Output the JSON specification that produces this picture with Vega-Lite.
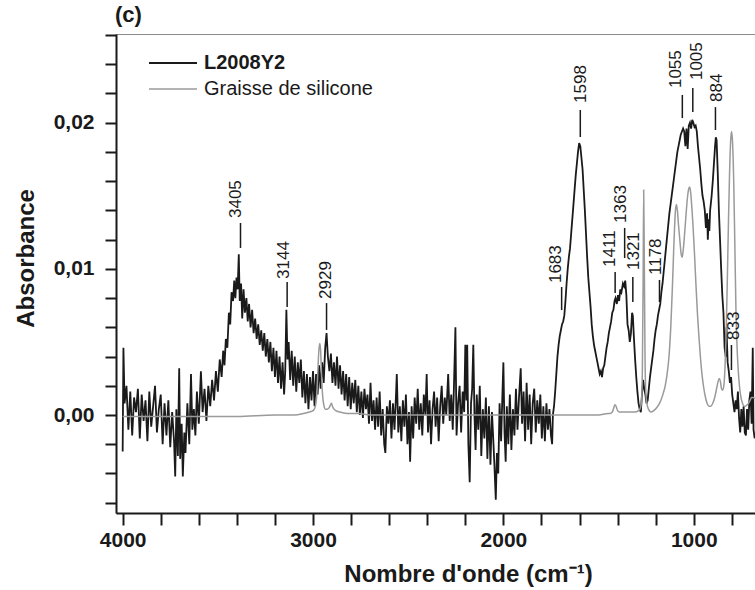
{
  "$schema": "https://vega.github.io/schema/vega-lite/v6.json",
  "autosize": "none",
  "width": 640,
  "height": 479,
  "padding": {"left": 116, "top": 34, "right": 0, "bottom": 77},
  "background": "white",
  "config": {
    "view": {"stroke": "#8c8c8c", "strokeWidth": 1},
    "font": "Liberation Sans",
    "axis": {"grid": false}
  },
  "title": {"text": "(c)", "anchor": "start", "frame": "group", "fontSize": 22, "fontWeight": "bold", "font": "Liberation Sans", "color": "#1a1a1a", "baseline": "bottom", "offset": 6, "dy": 31, "dx": -1},
  "datasets": {
    "black": [
      {"w":4000,"a":-0.0025},{"w":3996,"a":0.0046},{"w":3990,"a":0.0008},{"w":3980,"a":0.002},{"w":3970,"a":-0.001},{"w":3960,"a":0.0016},{"w":3950,"a":-0.0014},{"w":3940,"a":0.0012},{"w":3930,"a":0.0002},{"w":3920,"a":0.0018},{"w":3910,"a":-0.0016},{"w":3900,"a":0.0014},{"w":3890,"a":-0.0004},{"w":3880,"a":0.001},{"w":3870,"a":-0.0018},{"w":3860,"a":0.0016},{"w":3850,"a":-0.0008},{"w":3840,"a":0.0006},{"w":3830,"a":0.002},{"w":3820,"a":-0.0012},{"w":3810,"a":0.0004},{"w":3800,"a":0.0014},{"w":3790,"a":-0.002},{"w":3780,"a":0.0008},{"w":3770,"a":-0.0014},{"w":3760,"a":0.001},{"w":3750,"a":-0.0022},{"w":3740,"a":0.0002},{"w":3730,"a":-0.0018},{"w":3724,"a":-0.0042},{"w":3718,"a":0.0004},{"w":3710,"a":-0.0028},{"w":3703,"a":0.0032},{"w":3698,"a":-0.003},{"w":3690,"a":-0.0006},{"w":3684,"a":-0.0042},{"w":3676,"a":-0.0012},{"w":3670,"a":-0.0026},{"w":3660,"a":0.0008},{"w":3650,"a":-0.002},{"w":3641,"a":0.0028},{"w":3634,"a":-0.001},{"w":3626,"a":0.0004},{"w":3618,"a":-0.0014},{"w":3610,"a":0.0016},{"w":3600,"a":-0.0006},{"w":3589,"a":0.003},{"w":3580,"a":0.0002},{"w":3570,"a":0.0018},{"w":3560,"a":-0.0004},{"w":3550,"a":0.002},{"w":3540,"a":0.0006},{"w":3530,"a":0.0024},{"w":3520,"a":0.001},{"w":3510,"a":0.003},{"w":3500,"a":0.0016},{"w":3490,"a":0.0038},{"w":3480,"a":0.0026},{"w":3472,"a":0.0044},{"w":3465,"a":0.0034},{"w":3458,"a":0.0052},{"w":3450,"a":0.0046},{"w":3442,"a":0.007},{"w":3435,"a":0.0062},{"w":3428,"a":0.0084},{"w":3420,"a":0.0078},{"w":3414,"a":0.0092},{"w":3408,"a":0.008},{"w":3402,"a":0.0094},{"w":3396,"a":0.0086},{"w":3390,"a":0.011},{"w":3385,"a":0.0078},{"w":3378,"a":0.009},{"w":3372,"a":0.0066},{"w":3365,"a":0.0086},{"w":3358,"a":0.007},{"w":3350,"a":0.008},{"w":3343,"a":0.0064},{"w":3336,"a":0.0076},{"w":3328,"a":0.006},{"w":3320,"a":0.0072},{"w":3312,"a":0.0056},{"w":3304,"a":0.0066},{"w":3296,"a":0.0052},{"w":3288,"a":0.0062},{"w":3280,"a":0.0048},{"w":3272,"a":0.0058},{"w":3264,"a":0.0044},{"w":3256,"a":0.0056},{"w":3248,"a":0.004},{"w":3240,"a":0.0052},{"w":3232,"a":0.0036},{"w":3224,"a":0.005},{"w":3216,"a":0.003},{"w":3208,"a":0.0046},{"w":3200,"a":0.0026},{"w":3192,"a":0.0044},{"w":3184,"a":0.0022},{"w":3176,"a":0.004},{"w":3168,"a":0.0018},{"w":3160,"a":0.0036},{"w":3152,"a":0.0014},{"w":3146,"a":0.003},{"w":3140,"a":0.0072},{"w":3134,"a":0.0038},{"w":3128,"a":0.005},{"w":3120,"a":0.0024},{"w":3112,"a":0.0044},{"w":3104,"a":0.002},{"w":3096,"a":0.004},{"w":3088,"a":0.0016},{"w":3080,"a":0.0036},{"w":3072,"a":0.0022},{"w":3064,"a":0.0038},{"w":3056,"a":0.0012},{"w":3048,"a":0.003},{"w":3040,"a":0.0008},{"w":3032,"a":0.0028},{"w":3024,"a":0.0004},{"w":3016,"a":0.0026},{"w":3008,"a":0.001},{"w":3000,"a":0.003},{"w":2992,"a":0.0006},{"w":2984,"a":0.0028},{"w":2976,"a":0.0014},{"w":2968,"a":0.0034},{"w":2960,"a":0.0018},{"w":2952,"a":0.0036},{"w":2944,"a":0.0022},{"w":2936,"a":0.0046},{"w":2929,"a":0.0056},{"w":2922,"a":0.004},{"w":2914,"a":0.003},{"w":2906,"a":0.0042},{"w":2898,"a":0.0022},{"w":2890,"a":0.0036},{"w":2882,"a":0.002},{"w":2874,"a":0.004},{"w":2866,"a":0.0018},{"w":2858,"a":0.0034},{"w":2850,"a":0.0014},{"w":2842,"a":0.003},{"w":2834,"a":0.001},{"w":2826,"a":0.0028},{"w":2818,"a":0.0006},{"w":2810,"a":0.0026},{"w":2802,"a":0.0004},{"w":2794,"a":0.0022},{"w":2786,"a":0.0008},{"w":2778,"a":0.0024},{"w":2770,"a":0.0002},{"w":2762,"a":0.002},{"w":2754,"a":0},{"w":2746,"a":0.0016},{"w":2738,"a":-0.0002},{"w":2730,"a":0.0018},{"w":2722,"a":0.0004},{"w":2714,"a":0.0014},{"w":2706,"a":-0.0006},{"w":2698,"a":0.0022},{"w":2690,"a":-0.0004},{"w":2682,"a":0.001},{"w":2674,"a":-0.001},{"w":2666,"a":0.0012},{"w":2658,"a":-0.0008},{"w":2650,"a":0.0016},{"w":2642,"a":-0.0014},{"w":2634,"a":0.0004},{"w":2626,"a":-0.002},{"w":2620,"a":-0.0026},{"w":2612,"a":0.0006},{"w":2604,"a":-0.0006},{"w":2596,"a":0.001},{"w":2588,"a":-0.0016},{"w":2580,"a":0.0008},{"w":2572,"a":-0.001},{"w":2564,"a":0.0014},{"w":2560,"a":0.0028},{"w":2552,"a":-0.0012},{"w":2544,"a":0.0006},{"w":2536,"a":-0.0018},{"w":2528,"a":0.001},{"w":2520,"a":-0.0008},{"w":2512,"a":0.0014},{"w":2504,"a":-0.002},{"w":2496,"a":0.0002},{"w":2490,"a":-0.0032},{"w":2482,"a":0.0006},{"w":2474,"a":-0.0016},{"w":2466,"a":0.0012},{"w":2458,"a":-0.0006},{"w":2450,"a":0.0018},{"w":2442,"a":-0.001},{"w":2434,"a":0.0008},{"w":2426,"a":-0.0014},{"w":2418,"a":0.0014},{"w":2410,"a":0},{"w":2403,"a":0.0028},{"w":2396,"a":-0.0012},{"w":2388,"a":0.001},{"w":2380,"a":-0.002},{"w":2372,"a":0.0004},{"w":2364,"a":0.0016},{"w":2356,"a":-0.0008},{"w":2348,"a":0.0012},{"w":2340,"a":-0.0018},{"w":2332,"a":0.0006},{"w":2324,"a":0.002},{"w":2316,"a":-0.0006},{"w":2308,"a":0.0012},{"w":2300,"a":0},{"w":2290,"a":0.0028},{"w":2282,"a":-0.0004},{"w":2274,"a":0.0014},{"w":2266,"a":-0.001},{"w":2260,"a":0.0018},{"w":2252,"a":0.006},{"w":2246,"a":-0.0014},{"w":2238,"a":0.0008},{"w":2230,"a":0.002},{"w":2222,"a":-0.0012},{"w":2214,"a":0.0016},{"w":2206,"a":0.0002},{"w":2200,"a":0.0048},{"w":2194,"a":0.001},{"w":2190,"a":0.0048},{"w":2184,"a":-0.002},{"w":2177,"a":-0.0046},{"w":2170,"a":0.0008},{"w":2164,"a":0.0018},{"w":2158,"a":0.0048},{"w":2152,"a":0},{"w":2146,"a":-0.0024},{"w":2140,"a":0.0014},{"w":2132,"a":-0.001},{"w":2124,"a":0.002},{"w":2116,"a":-0.0028},{"w":2108,"a":0.0004},{"w":2100,"a":-0.0016},{"w":2092,"a":0.0012},{"w":2084,"a":-0.003},{"w":2076,"a":0.0006},{"w":2068,"a":-0.0034},{"w":2060,"a":0.0002},{"w":2052,"a":-0.002},{"w":2046,"a":-0.0038},{"w":2040,"a":-0.0058},{"w":2034,"a":-0.0026},{"w":2027,"a":-0.004},{"w":2020,"a":0.0008},{"w":2012,"a":-0.0018},{"w":2006,"a":0.001},{"w":2000,"a":0.0036},{"w":1994,"a":-0.0012},{"w":1988,"a":-0.0032},{"w":1982,"a":0.0006},{"w":1974,"a":-0.002},{"w":1966,"a":0.0014},{"w":1958,"a":-0.0024},{"w":1950,"a":0.0004},{"w":1942,"a":-0.0014},{"w":1934,"a":0.0018},{"w":1926,"a":-0.001},{"w":1918,"a":0.0012},{"w":1909,"a":0.0032},{"w":1902,"a":-0.0006},{"w":1894,"a":0.0016},{"w":1886,"a":-0.0018},{"w":1878,"a":0.0022},{"w":1870,"a":-0.001},{"w":1862,"a":0.0014},{"w":1854,"a":-0.002},{"w":1846,"a":0.0008},{"w":1838,"a":0.0018},{"w":1830,"a":-0.0012},{"w":1822,"a":0.001},{"w":1814,"a":-0.0006},{"w":1806,"a":0.0014},{"w":1798,"a":-0.0016},{"w":1790,"a":0.0006},{"w":1782,"a":-0.0018},{"w":1774,"a":0.0008},{"w":1766,"a":-0.001},{"w":1758,"a":0.0004},{"w":1750,"a":-0.0014},{"w":1744,"a":-0.002},{"w":1740,"a":0},{"w":1734,"a":0.0006},{"w":1728,"a":0.0016},{"w":1722,"a":0.0028},{"w":1716,"a":0.004},{"w":1710,"a":0.0048},{"w":1704,"a":0.0054},{"w":1698,"a":0.0058},{"w":1692,"a":0.0062},{"w":1686,"a":0.0064},{"w":1680,"a":0.0068},{"w":1674,"a":0.0078},{"w":1668,"a":0.009},{"w":1662,"a":0.01},{"w":1656,"a":0.0108},{"w":1650,"a":0.0114},{"w":1644,"a":0.0124},{"w":1638,"a":0.0134},{"w":1632,"a":0.0144},{"w":1626,"a":0.0154},{"w":1620,"a":0.0164},{"w":1614,"a":0.0172},{"w":1608,"a":0.018},{"w":1602,"a":0.0186},{"w":1596,"a":0.0184},{"w":1590,"a":0.0176},{"w":1584,"a":0.0168},{"w":1578,"a":0.0154},{"w":1572,"a":0.014},{"w":1566,"a":0.0124},{"w":1560,"a":0.0108},{"w":1554,"a":0.0094},{"w":1548,"a":0.0084},{"w":1542,"a":0.0074},{"w":1536,"a":0.0062},{"w":1530,"a":0.0054},{"w":1524,"a":0.0048},{"w":1518,"a":0.0044},{"w":1512,"a":0.004},{"w":1506,"a":0.0036},{"w":1500,"a":0.0032},{"w":1494,"a":0.0028},{"w":1488,"a":0.003},{"w":1482,"a":0.0026},{"w":1476,"a":0.0032},{"w":1470,"a":0.0034},{"w":1464,"a":0.004},{"w":1458,"a":0.0046},{"w":1452,"a":0.005},{"w":1446,"a":0.0056},{"w":1440,"a":0.006},{"w":1434,"a":0.0064},{"w":1428,"a":0.007},{"w":1422,"a":0.0072},{"w":1416,"a":0.0078},{"w":1411,"a":0.008},{"w":1404,"a":0.0076},{"w":1398,"a":0.0082},{"w":1392,"a":0.0078},{"w":1386,"a":0.0086},{"w":1380,"a":0.0084},{"w":1372,"a":0.009},{"w":1366,"a":0.0088},{"w":1360,"a":0.0092},{"w":1354,"a":0.0082},{"w":1348,"a":0.0062},{"w":1342,"a":0.0058},{"w":1336,"a":0.005},{"w":1330,"a":0.0056},{"w":1324,"a":0.007},{"w":1320,"a":0.0068},{"w":1314,"a":0.0052},{"w":1308,"a":0.0038},{"w":1302,"a":0.0026},{"w":1296,"a":0.0016},{"w":1290,"a":0.0008},{"w":1284,"a":0.0004},{"w":1278,"a":0.0002},{"w":1272,"a":0.0014},{"w":1266,"a":0.0024},{"w":1260,"a":0.0018},{"w":1254,"a":0.0014},{"w":1248,"a":0.0008},{"w":1242,"a":0.001},{"w":1236,"a":0.0018},{"w":1230,"a":0.0026},{"w":1224,"a":0.0032},{"w":1218,"a":0.0038},{"w":1212,"a":0.0044},{"w":1206,"a":0.0052},{"w":1200,"a":0.0058},{"w":1194,"a":0.0062},{"w":1188,"a":0.0068},{"w":1182,"a":0.0072},{"w":1176,"a":0.0076},{"w":1170,"a":0.0084},{"w":1164,"a":0.009},{"w":1158,"a":0.0098},{"w":1152,"a":0.0106},{"w":1146,"a":0.0114},{"w":1140,"a":0.0122},{"w":1134,"a":0.013},{"w":1128,"a":0.0138},{"w":1122,"a":0.0144},{"w":1116,"a":0.015},{"w":1110,"a":0.0156},{"w":1104,"a":0.0162},{"w":1098,"a":0.0168},{"w":1092,"a":0.0174},{"w":1086,"a":0.018},{"w":1080,"a":0.0184},{"w":1074,"a":0.0188},{"w":1068,"a":0.0192},{"w":1062,"a":0.0194},{"w":1056,"a":0.0196},{"w":1050,"a":0.0194},{"w":1044,"a":0.0184},{"w":1038,"a":0.0196},{"w":1032,"a":0.0182},{"w":1026,"a":0.0198},{"w":1020,"a":0.02},{"w":1014,"a":0.0196},{"w":1008,"a":0.0202},{"w":1002,"a":0.02},{"w":996,"a":0.0197},{"w":990,"a":0.0198},{"w":984,"a":0.0194},{"w":978,"a":0.0184},{"w":972,"a":0.0176},{"w":966,"a":0.0168},{"w":960,"a":0.0158},{"w":954,"a":0.015},{"w":948,"a":0.0146},{"w":942,"a":0.014},{"w":936,"a":0.0128},{"w":930,"a":0.0138},{"w":926,"a":0.012},{"w":922,"a":0.0134},{"w":918,"a":0.0126},{"w":914,"a":0.014},{"w":906,"a":0.015},{"w":900,"a":0.016},{"w":894,"a":0.0172},{"w":888,"a":0.0184},{"w":884,"a":0.019},{"w":880,"a":0.0188},{"w":874,"a":0.0166},{"w":868,"a":0.014},{"w":862,"a":0.012},{"w":856,"a":0.01},{"w":850,"a":0.0082},{"w":844,"a":0.007},{"w":838,"a":0.0046},{"w":832,"a":0.004},{"w":828,"a":0.006},{"w":822,"a":0.0036},{"w":816,"a":0.003},{"w":810,"a":0.0022},{"w":804,"a":0.0026},{"w":798,"a":0.0014},{"w":792,"a":0.0008},{"w":786,"a":0.0002},{"w":780,"a":0.001},{"w":774,"a":0.0004},{"w":768,"a":0.0016},{"w":762,"a":-0.0002},{"w":756,"a":-0.0012},{"w":750,"a":0.0004},{"w":744,"a":-0.0008},{"w":738,"a":0.0006},{"w":732,"a":-0.0012},{"w":726,"a":-0.0014},{"w":720,"a":0.0004},{"w":714,"a":-0.001},{"w":708,"a":0.001},{"w":702,"a":0.0016},{"w":696,"a":-0.0006},{"w":690,"a":0.0046},{"w":686,"a":-0.001},{"w":680,"a":-0.0016}
    ],
    "gray": [
      {"w":4000,"a":-0.0001},{"w":3800,"a":-0.0001},{"w":3600,"a":-0.0001},{"w":3400,"a":-0.0001},{"w":3200,"a":0},{"w":3100,"a":0},{"w":3050,"a":0.0001},{"w":3020,"a":0.0002},{"w":3000,"a":0.0003},{"w":2990,"a":0.0005},{"w":2985,"a":0.0008},{"w":2980,"a":0.0014},{"w":2976,"a":0.0026},{"w":2972,"a":0.0038},{"w":2968,"a":0.0046},{"w":2964,"a":0.0049},{"w":2960,"a":0.0044},{"w":2956,"a":0.003},{"w":2952,"a":0.0018},{"w":2948,"a":0.0011},{"w":2942,"a":0.0006},{"w":2935,"a":0.0004},{"w":2925,"a":0.0004},{"w":2915,"a":0.0005},{"w":2908,"a":0.0007},{"w":2903,"a":0.0008},{"w":2898,"a":0.0006},{"w":2890,"a":0.0004},{"w":2880,"a":0.0003},{"w":2860,"a":0.0002},{"w":2820,"a":0.0001},{"w":2760,"a":0.0001},{"w":2700,"a":0},{"w":2400,"a":0},{"w":2000,"a":0},{"w":1700,"a":0},{"w":1500,"a":0},{"w":1450,"a":0.0001},{"w":1440,"a":0.0001},{"w":1428,"a":0.0002},{"w":1420,"a":0.0005},{"w":1414,"a":0.0007},{"w":1408,"a":0.0006},{"w":1400,"a":0.0003},{"w":1390,"a":0.0002},{"w":1370,"a":0.0002},{"w":1340,"a":0.0002},{"w":1310,"a":0.0002},{"w":1290,"a":0.0003},{"w":1280,"a":0.0005},{"w":1274,"a":0.001},{"w":1270,"a":0.003},{"w":1266,"a":0.009},{"w":1263,"a":0.0154},{"w":1260,"a":0.011},{"w":1256,"a":0.004},{"w":1252,"a":0.0016},{"w":1246,"a":0.0008},{"w":1238,"a":0.0004},{"w":1225,"a":0.0002},{"w":1210,"a":0.0003},{"w":1195,"a":0.0005},{"w":1180,"a":0.0008},{"w":1170,"a":0.0011},{"w":1160,"a":0.0015},{"w":1150,"a":0.002},{"w":1140,"a":0.0028},{"w":1130,"a":0.004},{"w":1120,"a":0.0062},{"w":1112,"a":0.0088},{"w":1104,"a":0.0118},{"w":1096,"a":0.014},{"w":1091,"a":0.0144},{"w":1086,"a":0.014},{"w":1080,"a":0.013},{"w":1072,"a":0.0118},{"w":1066,"a":0.011},{"w":1061,"a":0.0108},{"w":1056,"a":0.0112},{"w":1048,"a":0.0124},{"w":1040,"a":0.0138},{"w":1032,"a":0.015},{"w":1026,"a":0.0155},{"w":1021,"a":0.0156},{"w":1016,"a":0.0152},{"w":1010,"a":0.0142},{"w":1004,"a":0.013},{"w":996,"a":0.011},{"w":988,"a":0.0088},{"w":980,"a":0.0068},{"w":972,"a":0.0052},{"w":964,"a":0.0038},{"w":956,"a":0.0027},{"w":948,"a":0.0019},{"w":940,"a":0.0013},{"w":930,"a":0.0008},{"w":920,"a":0.0006},{"w":910,"a":0.0006},{"w":900,"a":0.0008},{"w":890,"a":0.0012},{"w":880,"a":0.0018},{"w":872,"a":0.0023},{"w":866,"a":0.0025},{"w":860,"a":0.0023},{"w":854,"a":0.0018},{"w":848,"a":0.0017},{"w":842,"a":0.002},{"w":836,"a":0.0032},{"w":830,"a":0.0055},{"w":824,"a":0.009},{"w":818,"a":0.013},{"w":812,"a":0.0165},{"w":806,"a":0.0188},{"w":801,"a":0.0194},{"w":796,"a":0.0186},{"w":790,"a":0.016},{"w":784,"a":0.0115},{"w":778,"a":0.007},{"w":772,"a":0.0045},{"w":766,"a":0.003},{"w":760,"a":0.002},{"w":752,"a":0.0012},{"w":744,"a":0.0008},{"w":736,"a":0.0006},{"w":728,"a":0.0006},{"w":720,"a":0.0007},{"w":712,"a":0.0008},{"w":704,"a":0.001},{"w":696,"a":0.0012},{"w":688,"a":0.0012},{"w":680,"a":0.0011}
    ],
    "labels": [
      {"t":"3405","w":3381,"a":0.01143,"a2":0.01314,"tw":3403,"ta":0.01348},
      {"t":"3144","w":3136,"a":0.00739,"a2":0.0091,"tw":3153,"ta":0.00931},
      {"t":"2929","w":2929,"a":0.00582,"a2":0.00766,"tw":2933,"ta":0.00794},
      {"t":"1683","w":1694,"a":0.00718,"a2":0.00876,"tw":1725,"ta":0.00903},
      {"t":"1598","w":1596,"a":0.01902,"a2":0.02087,"tw":1594,"ta":0.02135},
      {"t":"1411","w":1413,"a":0.00835,"a2":0.00978,"tw":1439,"ta":0.01013},
      {"t":"1363","w":1363,"a":0.01074,"a2":0.0128,"tw":1382,"ta":0.01314},
      {"t":"1321","w":1320,"a":0.00773,"a2":0.00944,"tw":1316,"ta":0.00992},
      {"t":"1178","w":1180,"a":0.00773,"a2":0.00924,"tw":1200,"ta":0.00958},
      {"t":"1055","w":1060,"a":0.02032,"a2":0.0219,"tw":1092,"ta":0.02237},
      {"t":"1005","w":1005,"a":0.02073,"a2":0.02237,"tw":985,"ta":0.02292},
      {"t":"884","w":886,"a":0.0195,"a2":0.02107,"tw":878,"ta":0.02142},
      {"t":"833","w":802,"a":0.00308,"a2":0.00479,"tw":786,"ta":0.00513}
    ]
  },
  "layer": [
    {
      "data": {"name": "black"},
      "mark": {"type": "line", "strokeWidth": 1.8, "clip": true},
      "encoding": {
        "x": {
          "field": "w", "type": "quantitative",
          "scale": {"domain": [673, 4035], "reverse": true, "nice": false, "zero": false},
          "axis": {
            "values": [4000,3800,3600,3400,3200,3000,2800,2600,2400,2200,2000,1800,1600,1400,1200,1000,800],
            "tickCount": 100,
            "format": "d",
            "labelExpr": "datum.value % 1000 === 0 ? datum.label : ''",
            "tickSize": 12, "tickWidth": 2, "tickColor": "#1a1a1a",
            "domainWidth": 2, "domainColor": "#1a1a1a",
            "labelFont": "Liberation Sans", "labelFontSize": 21, "labelFontWeight": "bold", "labelColor": "#1a1a1a",
            "labelPadding": 4, "labelFlush": false, "labelOverlap": false,
            "title": "Nombre d'onde (cm⁻¹)",
            "titleFont": "Liberation Sans", "titleFontSize": 24, "titleFontWeight": "bold", "titleColor": "#1a1a1a",
            "titleX": 352, "titleY": 49,
            "encode": {"ticks": {"update": {"y2": {"signal": "datum.value % 1000 === 0 ? 12 : 7"}}}}
          }
        },
        "y": {
          "field": "a", "type": "quantitative",
          "scale": {"domain": [-0.006705, 0.02607], "nice": false, "zero": false},
          "axis": {
            "values": [-0.006,-0.004,-0.002,0,0.002,0.004,0.006,0.008,0.01,0.012,0.014,0.016,0.018,0.02,0.022,0.024,0.026],
            "tickCount": 100,
            "labelExpr": "abs(round(datum.value*1000)) % 10 === 0 ? replace(format(datum.value, '.2f'), '.', ',') : ''",
            "tickSize": 11, "tickWidth": 2, "tickColor": "#1a1a1a",
            "domainWidth": 2, "domainColor": "#1a1a1a",
            "labelFont": "Liberation Sans", "labelFontSize": 21, "labelFontWeight": "bold", "labelColor": "#1a1a1a",
            "labelPadding": 11, "labelFlush": false, "labelOverlap": false,
            "title": "Absorbance",
            "titleFont": "Liberation Sans", "titleFontSize": 24, "titleFontWeight": "bold", "titleColor": "#1a1a1a",
            "titleX": -78, "titleY": 224,
            "encode": {"ticks": {"update": {"x2": {"signal": "abs(round(datum.value*1000)) % 10 === 0 ? -11 : -6"}}}}
          }
        },
        "color": {
          "datum": "L2008Y2", "type": "nominal",
          "scale": {"domain": ["L2008Y2", "Graisse de silicone"], "range": ["#1a1a1a", "#9a9a9a"]},
          "legend": {
            "orient": "none", "legendX": 47, "legendY": 19, "title": null, "padding": 0,
            "symbolType": "stroke", "symbolSize": 2304, "symbolStrokeWidth": 2,
            "labelFont": "Liberation Sans", "labelFontSize": 20, "labelColor": "#1a1a1a", "labelOffset": 21, "labelLimit": 400,
            "rowPadding": 6,
            "encode": {
              "labels": {"update": {"fontWeight": {"signal": "datum.value === 'L2008Y2' ? 'bold' : 'normal'"}}},
              "symbols": {"update": {"strokeWidth": {"signal": "datum.value === 'L2008Y2' ? 2 : 1.5"}}}
            }
          }
        }
      }
    },
    {
      "data": {"name": "gray"},
      "mark": {"type": "line", "strokeWidth": 1.5, "interpolate": "monotone", "clip": true},
      "encoding": {
        "x": {"field": "w", "type": "quantitative"},
        "y": {"field": "a", "type": "quantitative"},
        "color": {"datum": "Graisse de silicone", "type": "nominal"}
      }
    },
    {
      "data": {"name": "labels"},
      "mark": {"type": "rule", "strokeWidth": 1.5, "color": "#1a1a1a"},
      "encoding": {
        "x": {"field": "w", "type": "quantitative"},
        "y": {"field": "a", "type": "quantitative"},
        "y2": {"field": "a2"}
      }
    },
    {
      "data": {"name": "labels"},
      "mark": {"type": "text", "angle": 270, "align": "left", "baseline": "middle", "font": "Liberation Sans", "fontSize": 17, "color": "#1a1a1a"},
      "encoding": {
        "x": {"field": "tw", "type": "quantitative"},
        "y": {"field": "ta", "type": "quantitative"},
        "text": {"field": "t"}
      }
    }
  ]
}
